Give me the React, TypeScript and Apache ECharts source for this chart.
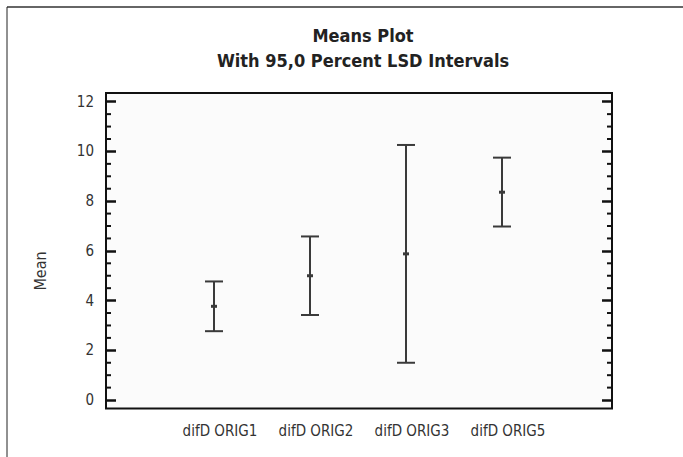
import React, { useEffect, useRef } from "react";
import * as echarts from "echarts";

// Group names along the horizontal axis
const groups = ["difD ORIG1", "difD ORIG2", "difD ORIG3", "difD ORIG5"];
// Position of each group on the x scale
const groupPos = [1, 2, 3, 4];
// Group means and the 95% LSD interval limits
const means = [3.77, 5.0, 5.88, 8.36];
const lower = [2.77, 3.42, 1.5, 6.98];
const upper = [4.77, 6.58, 10.26, 9.75];
// Major tick values on the Mean axis
const yTicks = [0, 2, 4, 6, 8, 10, 12];

const FONT = "'DejaVu Sans Condensed', 'Liberation Sans Narrow', 'DejaVu Sans', sans-serif";

const Y_MIN = -0.34;
const Y_MAX = 12.35;

// three minor ticks between neighbouring major ticks
const yMinorTicks: number[] = [];
for (let i = 0; i < yTicks.length - 1; i++) {
  const step = (yTicks[i + 1] - yTicks[i]) / 4;
  for (let k = 1; k < 4; k++) yMinorTicks.push(yTicks[i] + step * k);
}

function yAxisDef(position: "left" | "right") {
  return {
    type: "value",
    position,
    offset: 0,
    min: Y_MIN,
    max: Y_MAX,
    axisLine: { show: false, onZero: false },
    splitLine: { show: false },
    axisTick: {
      show: true,
      inside: true,
      length: 10,
      customValues: yTicks,
      lineStyle: { color: "#111", width: 2.5 },
    },
    axisLabel: {
      show: position === "left",
      customValues: yTicks,
      margin: 12,
      fontSize: 15,
      color: "#333",
      fontFamily: FONT,
    },
  };
}

export default function App() {
  const ref = useRef<HTMLDivElement>(null);

  useEffect(() => {
    if (!ref.current) return;
    const chart = echarts.init(ref.current, null, { renderer: "svg" });

    const data = groupPos.map((x, i) => [x, lower[i], means[i], upper[i]]);

    chart.setOption({
      animation: false,
      backgroundColor: "#ffffff",
      title: {
        text: "Means Plot\nWith 95,0 Percent LSD Intervals",
        left: 358,
        top: 18,
        textAlign: "center",
        textStyle: {
          fontFamily: FONT,
          fontWeight: "bold",
          fontSize: 18,
          lineHeight: 25,
          color: "#222",
        },
      },
      grid: {
        left: 106,
        top: 93,
        width: 506,
        height: 315.5,
        show: true,
        borderColor: "#111",
        borderWidth: 2,
        backgroundColor: "#fbfbfb",
      },
      xAxis: {
        type: "value",
        min: -0.125,
        max: 5.146,
        axisLine: { show: false, onZero: false },
        axisTick: { show: false },
        splitLine: { show: false },
        axisLabel: {
          customValues: groupPos,
          formatter: (v: number) => groups[groupPos.indexOf(v)] ?? "",
          margin: 15,
          fontSize: 15,
          color: "#333",
          fontFamily: FONT,
          padding: [0, 0, 0, 12],
        },
      },
      yAxis: [yAxisDef("left"), yAxisDef("right")],
      graphic: [
        // outer frame edges
        { type: "line", shape: { x1: 7, y1: 7, x2: 683, y2: 7 }, style: { stroke: "#666", lineWidth: 2 } },
        { type: "line", shape: { x1: 7, y1: 7, x2: 7, y2: 457 }, style: { stroke: "#222", lineWidth: 1 } },
        {
          type: "text",
          x: 40,
          y: 271,
          rotation: Math.PI / 2,
          style: {
            text: "Mean",
            fontSize: 16,
            fontFamily: FONT,
            fill: "#333",
            align: "center",
            verticalAlign: "middle",
          },
        },
      ],
      series: [
        {
          // minor ticks on both vertical edges of the plot frame
          type: "custom",
          yAxisIndex: 0,
          silent: true,
          data: yMinorTicks.map((v) => [0, v]),
          encode: { y: 1 },
          renderItem: (params: any, api: any) => {
            const cs = params.coordSys;
            const y = api.coord([0, api.value(1)])[1];
            const style = { stroke: "#111", lineWidth: 2 };
            return {
              type: "group",
              children: [
                { type: "line", shape: { x1: cs.x, y1: y, x2: cs.x + 5, y2: y }, style },
                { type: "line", shape: { x1: cs.x + cs.width - 5, y1: y, x2: cs.x + cs.width, y2: y }, style },
              ],
            };
          },
        },
        {
          // interval bars with a mark at each mean
          type: "custom",
          yAxisIndex: 0,
          data,
          encode: { x: 0, y: [1, 2, 3] },
          renderItem: (_params: any, api: any) => {
            const x = api.value(0);
            const pLow = api.coord([x, api.value(1)]);
            const pMean = api.coord([x, api.value(2)]);
            const pHigh = api.coord([x, api.value(3)]);
            const half = 9;
            const stroke = { stroke: "#3a3a3a", lineWidth: 2 };
            return {
              type: "group",
              children: [
                { type: "line", shape: { x1: pLow[0], y1: pLow[1], x2: pHigh[0], y2: pHigh[1] }, style: stroke },
                { type: "line", shape: { x1: pHigh[0] - half, y1: pHigh[1], x2: pHigh[0] + half, y2: pHigh[1] }, style: stroke },
                { type: "line", shape: { x1: pLow[0] - half, y1: pLow[1], x2: pLow[0] + half, y2: pLow[1] }, style: stroke },
                { type: "rect", shape: { x: pMean[0] - 3, y: pMean[1] - 1.5, width: 6, height: 3 }, style: { fill: "#3a3a3a" } },
              ],
            };
          },
        },
      ],
    });

    return () => chart.dispose();
  }, []);

  return (
    <div
      ref={ref}
      style={{ position: "absolute", left: 0, top: 0, width: 683, height: 457 }}
    />
  );
}
